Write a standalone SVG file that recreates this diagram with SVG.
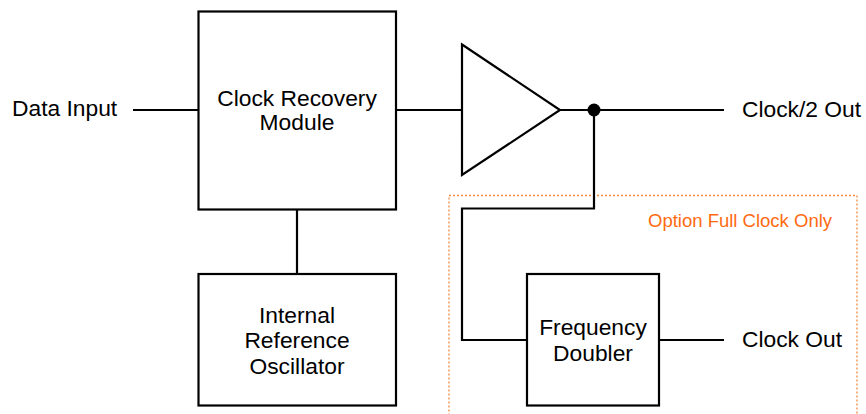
<svg xmlns="http://www.w3.org/2000/svg" width="866" height="414" viewBox="0 0 866 414">
<style>
.box{fill:#fff;stroke:#000;stroke-width:2.2}
.ln{fill:none;stroke:#000;stroke-width:2.2}
.t{font-family:"Liberation Sans",Arial,sans-serif;font-size:22.8px;fill:#000}
.c{text-anchor:middle}
.o{font-family:"Liberation Sans",Arial,sans-serif;font-size:18.5px;fill:#FF6A10}
</style>
<rect x="0" y="0" width="866" height="414" fill="#fff"/>
<g id="option-region">
<rect x="449" y="195.5" width="408" height="240" fill="none" stroke="#F58A3C" stroke-width="1.3" stroke-dasharray="2,2"/>
<text class="o" x="648" y="227">Option Full Clock Only</text>
</g>
<g id="connectors">
<line class="ln" x1="133" y1="110" x2="198" y2="110"/>
<line class="ln" x1="396" y1="110" x2="462" y2="110"/>
<line class="ln" x1="297" y1="209" x2="297" y2="274"/>
<line class="ln" x1="560" y1="110" x2="724" y2="110"/>
<polyline class="ln" points="594,110 594,208.5 462,208.5 462,340 527,340"/>
<line class="ln" x1="659" y1="340" x2="724" y2="340"/>
<circle cx="594" cy="110" r="6.5" fill="#000"/>
</g>
<g id="data-input"><text class="t" x="12" y="116">Data Input</text></g>
<g id="clock-recovery">
<rect class="box" x="198.5" y="11.5" width="197.5" height="198"/>
<text class="t c" x="297" y="106">Clock Recovery</text>
<text class="t c" x="297" y="130">Module</text>
</g>
<g id="oscillator">
<rect class="box" x="198.5" y="274" width="197.5" height="131.5"/>
<text class="t c" x="297" y="323">Internal</text>
<text class="t c" x="297" y="348">Reference</text>
<text class="t c" x="297" y="374">Oscillator</text>
</g>
<g id="buffer">
<polygon class="box" points="462,44.5 560,110 462,175"/>
</g>
<g id="clock2-out"><text class="t" x="742" y="117">Clock/2 Out</text></g>
<g id="doubler">
<rect class="box" x="527" y="274" width="132" height="131.5"/>
<text class="t c" x="593" y="335">Frequency</text>
<text class="t c" x="593" y="361">Doubler</text>
</g>
<g id="clock-out"><text class="t" x="742" y="347">Clock Out</text></g>
</svg>
